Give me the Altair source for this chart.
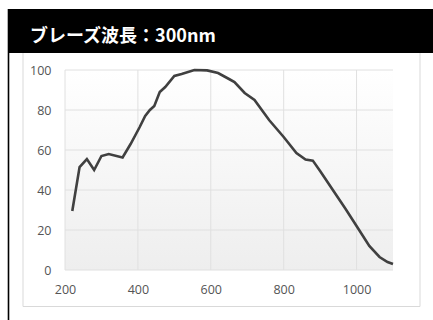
import altair as alt
import pandas as pd

# Diffraction efficiency curve (%) versus wavelength (nm)
wavelength = [220, 240, 260, 280, 300, 320, 358, 380, 405, 420, 433, 445, 460, 475,
              500, 520, 555, 590, 620, 650, 665, 693, 720, 760, 800, 835, 860, 880,
              900, 935, 970, 1000, 1035, 1063, 1085, 1100]
efficiency = [29.5, 51.5, 55.5, 50, 57, 58, 56.3, 63, 71.5, 77, 80, 82, 89, 91.5,
              97, 98, 100, 99.8, 98.5, 95.5, 94, 88.5, 85, 75, 66.5, 58.5, 55.2, 54.7,
              49.5, 40, 30.5, 22, 12, 6.5, 4, 3]

x_ticks = [200, 400, 600, 800, 1000]
y_ticks = [0, 20, 40, 60, 80, 100]
title_text = "ブレーズ波長：300nm"

W, H = 328, 200
GRID = "#e0e0e0"
LABEL_FONT = "Open Sans"
LABEL_COLOR = "#555555"

curve = pd.DataFrame({"wavelength": wavelength, "efficiency": efficiency})
xgrid = pd.DataFrame({"wavelength": x_ticks})
ygrid = pd.DataFrame({"efficiency": y_ticks})
one = alt.Data(values=[{}])

x_axis = alt.Axis(values=x_ticks, grid=False, domain=False, ticks=False, title=None,
                  format="d", labelFlush=False,
                  labelFont=LABEL_FONT, labelFontSize=12.5, labelColor=LABEL_COLOR,
                  labelPadding=13, zindex=1)
y_axis = alt.Axis(values=y_ticks, grid=False, domain=False, ticks=False, title=None,
                  format="d",
                  labelFont=LABEL_FONT, labelFontSize=12.5, labelColor=LABEL_COLOR,
                  labelPadding=14, zindex=1)
x_scale = alt.Scale(domain=[200, 1100], nice=False, zero=False)
y_scale = alt.Scale(domain=[0, 100], nice=False)

x_enc = alt.X("wavelength:Q", scale=x_scale, axis=x_axis)
y_enc = alt.Y("efficiency:Q", scale=y_scale, axis=y_axis)

# outer light frame around the chart body
frame = alt.Chart(one).mark_rect(fill="white", stroke="#d9d9d9", strokeWidth=1).encode(
    x=alt.value(-42), x2=alt.value(355), y=alt.value(-20), y2=alt.value(236.5))

# soft white-to-grey plot background
bg = alt.Chart(one).mark_rect(
    fill=alt.LinearGradient(
        gradient="linear",
        stops=[alt.GradientStop(offset=0, color="#ffffff"),
               alt.GradientStop(offset=1, color="#eeeeee")],
        x1=0, x2=0, y1=0, y2=1)
).encode(x=alt.value(0), x2=alt.value(W), y=alt.value(0), y2=alt.value(H))

vgrid = alt.Chart(xgrid).mark_rule(color=GRID, strokeWidth=1).encode(
    x=x_enc, y=alt.value(0), y2=alt.value(H))
hgrid = alt.Chart(ygrid).mark_rule(color=GRID, strokeWidth=1).encode(
    y=y_enc, x=alt.value(0), x2=alt.value(W))

line = alt.Chart(curve).mark_line(color="#404040", strokeWidth=2.6).encode(
    x=x_enc, y=y_enc)

# black title band and left border
band = alt.Chart(one).mark_rect(fill="black").encode(
    x=alt.value(-57), x2=alt.value(368), y=alt.value(-61), y2=alt.value(-17))
left_rule = alt.Chart(one).mark_rule(color="black", strokeWidth=1.6).encode(
    x=alt.value(-56.5), y=alt.value(-61), y2=alt.value(250))
title = alt.Chart(one).mark_text(
    text=title_text, font="Noto Sans CJK JP", fontWeight="bold", fontSize=18,
    color="white", align="left", baseline="alphabetic"
).encode(x=alt.value(-35), y=alt.value(-28))

chart = alt.layer(frame, bg, vgrid, hgrid, line, band, left_rule, title).properties(
    width=W, height=H,
    autosize=alt.AutoSizeParams(type="none"),
    padding={"left": 65, "top": 70, "right": 40, "bottom": 50},
    background="white",
).configure_view(strokeWidth=0)

chart.save("out.html", embed_options={"renderer": "svg", "actions": False})
